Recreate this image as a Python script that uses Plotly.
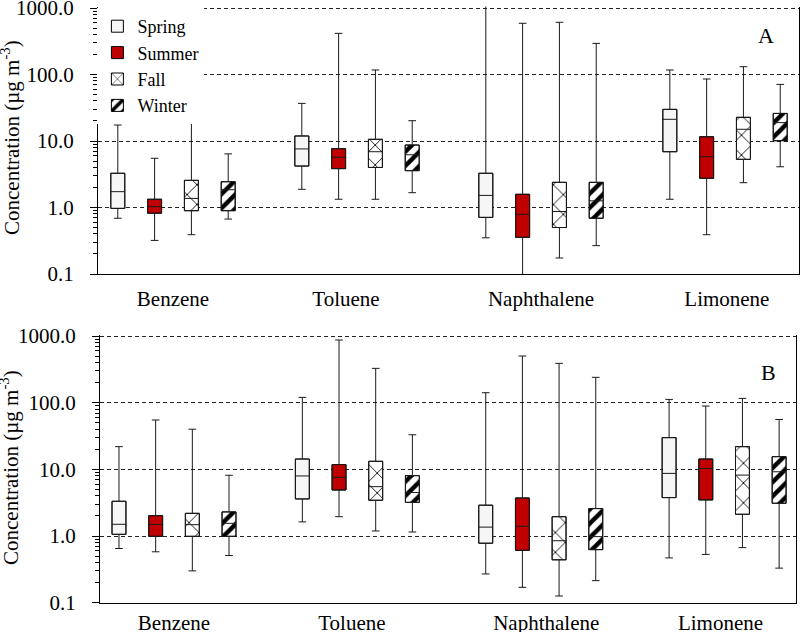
import plotly.graph_objects as go

compounds = ["Benzene", "Toluene", "Naphthalene", "Limonene"]
seasons = ["Spring", "Summer", "Fall", "Winter"]

# Panel A : per season, per compound (Benzene, Toluene, Naphthalene, Limonene)
a_low = {"Spring": [0.69, 1.88, 0.35, 1.33], "Summer": [0.32, 1.33, 0.05, 0.39],
         "Fall": [0.39, 1.33, 0.174, 2.36], "Winter": [0.67, 1.67, 0.267, 4.1]}
a_q1 = {"Spring": [0.97, 4.2, 0.71, 6.9], "Summer": [0.82, 3.84, 0.356, 2.75],
        "Fall": [0.895, 4.0, 0.50, 5.3], "Winter": [0.895, 3.58, 0.69, 10.1]}
a_med = {"Spring": [1.73, 7.6, 1.52, 21.2], "Summer": [1.03, 5.7, 0.79, 5.8],
         "Fall": [1.37, 6.9, 0.87, 15.0], "Winter": [1.85, 6.2, 1.26, 18.9]}
a_q3 = {"Spring": [3.27, 11.9, 3.27, 29.9], "Summer": [1.33, 7.67, 1.58, 11.6],
        "Fall": [2.56, 10.6, 2.39, 22.7], "Winter": [2.44, 8.7, 2.39, 26.0]}
a_high = {"Spring": [17.4, 36.8, 2000, 117], "Summer": [5.5, 416, 589, 85.6],
          "Fall": [20.2, 117, 610, 131], "Winter": [6.4, 20.2, 294, 71]}

# Panel B
b_low = {"Spring": [0.65, 1.63, 0.27, 0.47], "Summer": [0.58, 1.95, 0.17, 0.53],
         "Fall": [0.30, 1.19, 0.126, 0.67], "Winter": [0.51, 1.15, 0.214, 0.33]}
b_q1 = {"Spring": [1.06, 3.6, 0.78, 3.77], "Summer": [0.99, 4.9, 0.61, 3.48],
        "Fall": [0.99, 3.44, 0.44, 2.12], "Winter": [0.99, 3.2, 0.625, 3.1]}
b_med = {"Spring": [1.5, 7.96, 1.36, 8.7], "Summer": [1.49, 7.6, 1.4, 10.3],
         "Fall": [1.48, 5.5, 0.85, 8.2], "Winter": [1.55, 4.5, 0.98, 9.2]}
b_q3 = {"Spring": [3.32, 14.3, 2.9, 29.9], "Summer": [2.02, 11.8, 3.72, 14.3],
        "Fall": [2.19, 13.2, 1.95, 21.9], "Winter": [2.3, 8.05, 2.58, 15.5]}
b_high = {"Spring": [21.9, 120, 141, 112], "Summer": [55, 871, 501, 89],
          "Fall": [40, 327, 389, 116], "Winter": [8.15, 33, 240, 56]}

y_tickvals = [0.1, 1, 10, 100, 1000]
y_ticktext = ["0.1", "1.0", "10.0", "100.0", "1000.0"]
a_label_pos = [0.0, 0.94, 2.0, 3.01]
b_label_pos = [0.0, 0.97, 2.03, 2.98]
y_title = "Concentration (µg m<sup>-3</sup>)"

season_offset = {"Spring": -0.3, "Summer": -0.1, "Fall": 0.1, "Winter": 0.3}
season_fill = {"Spring": "#f6f6f6", "Summer": "#c00000", "Fall": "white", "Winter": "white"}
season_pattern = {
    "Spring": dict(shape=""),
    "Summer": dict(shape=""),
    "Fall": dict(shape="x", size=14, solidity=0.12, fgcolor="black", bgcolor="white", fillmode="replace"),
    "Winter": dict(shape="/", size=10, solidity=0.45, fgcolor="black", bgcolor="white", fillmode="replace"),
}
BW = 0.076
FONT = "Liberation Serif, Times New Roman, serif"
W, H = 800, 632

fig = go.Figure()
panels = [("x", "y", a_low, a_q1, a_med, a_q3, a_high, True),
          ("x2", "y2", b_low, b_q1, b_med, b_q3, b_high, False)]
for xa, ya, lo, q1, md, q3, hi, leg in panels:
    for s in seasons:
        xs = [i + season_offset[s] for i in range(len(compounds))]
        fig.add_trace(go.Bar(
            x=xs, y=[t - b for t, b in zip(q3[s], q1[s])], base=q1[s], width=BW,
            marker=dict(color=season_fill[s], pattern=season_pattern[s],
                        line=dict(color="black", width=1)),
            name=s, legendgroup=s, showlegend=leg, xaxis=xa, yaxis=ya, hoverinfo="skip"))
    for s in seasons:
        xs = [i + season_offset[s] for i in range(len(compounds))]
        fig.add_trace(go.Box(
            x=xs, q1=q1[s], median=md[s], q3=q3[s], lowerfence=lo[s], upperfence=hi[s],
            width=BW, whiskerwidth=0.55, boxpoints=False,
            fillcolor="rgba(0,0,0,0)", line=dict(color="#1a1a1a", width=1),
            showlegend=False, xaxis=xa, yaxis=ya, hoverinfo="skip"))

minor_vals = [m * 10 ** e for e in range(-1, 3) for m in range(2, 10)]


def yax(domain, anchor, top):
    return dict(
        domain=domain, anchor=anchor, type="log", range=[-1, top], automargin=False,
        tickvals=y_tickvals, ticktext=y_ticktext, ticklabeloverflow="allow",
        ticks="outside", ticklen=7, tickcolor="black", tickwidth=1,
        minor=dict(tickvals=minor_vals, ticks="outside", ticklen=4, tickcolor="black", showgrid=False),
        showgrid=True, gridcolor="#222", griddash="4px,3px", gridwidth=1,
        showline=True, linecolor="black", linewidth=1.3, mirror=True, zeroline=False,
        tickfont=dict(family=FONT, size=21, color="black"), ticklabelstandoff=12,
    )


def xax(domain, anchor, labels_pos, r, standoff):
    return dict(
        domain=domain, anchor=anchor, range=r, automargin=False,
        tickvals=labels_pos, ticktext=compounds, ticks="", ticklabeloverflow="allow",
        showgrid=False, zeroline=False, showline=True, linecolor="black", linewidth=1.3,
        mirror=False, tickfont=dict(family=FONT, size=21, color="black"),
        ticklabelstandoff=standoff,
    )


def label(text, x, y, size=22, angle=0):
    return dict(text=text, x=x / W, y=1 - y / H, xref="paper", yref="paper",
                xanchor="center", yanchor="middle", textangle=angle, showarrow=False,
                font=dict(family=FONT, size=size, color="black"))


fig.update_layout(
    width=W, height=H, margin=dict(l=0, r=0, t=0, b=0, autoexpand=False),
    paper_bgcolor="white", plot_bgcolor="white",
    barmode="overlay", boxmode="overlay", hovermode=False,
    font=dict(family=FONT, size=21, color="black"),
    xaxis=xax([98 / W, 799 / W], "y", a_label_pos, [-0.4076, 3.402], 6),
    yaxis=yax([1 - 274 / H, 1 - 6.5 / H], "x", 3.0226),
    xaxis2=xax([100 / W, 796 / W], "y2", b_label_pos, [-0.4035, 3.392], 1),
    yaxis2=yax([1 - 602.7 / H, 1 - 334.5 / H], "x2", 3.0226),
    legend=dict(x=97.4 / W, y=1 - 8 / H, xanchor="left", yanchor="top", bgcolor="white",
                font=dict(family=FONT, size=18, color="black"), tracegroupgap=0,
                traceorder="normal"),
    annotations=[
        label("A", 766, 36),
        label("B", 768, 372),
        label(y_title, 10, 138, 21, -90),
        label(y_title, 10, 468, 21, -90),
    ],
)

fig.write_html("out.html", config={"displayModeBar": False},
               post_script="document.body.style.margin='0px';")
